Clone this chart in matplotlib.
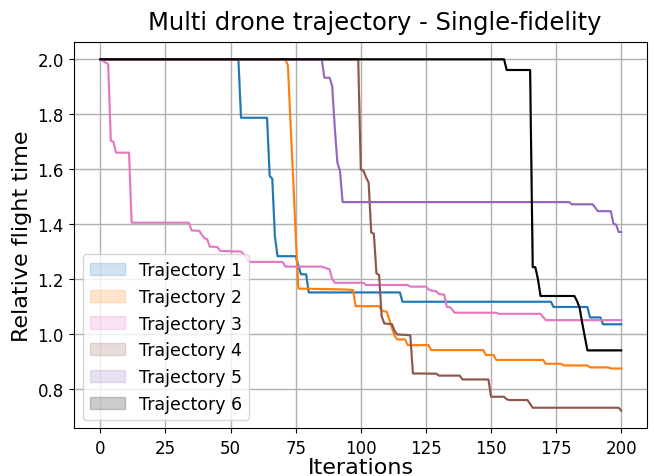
import matplotlib
matplotlib.use("Agg")
import matplotlib.pyplot as plt

# Trajectory breakpoints (iteration, relative flight time)
t1_x = [0, 53, 54, 64, 65, 66, 67, 68, 75, 77, 79, 80, 115, 116, 173, 174, 187, 188, 192, 193, 200]
t1_y = [2.0, 2.0, 1.787, 1.787, 1.575, 1.565, 1.356, 1.283, 1.283, 1.217, 1.217, 1.151, 1.151, 1.117, 1.117, 1.098, 1.098, 1.06, 1.06, 1.035, 1.035]

t2_x = [0, 71, 72, 73, 74, 75, 76, 93, 97, 98, 107, 108, 110, 111, 113, 114, 117, 118, 126, 127, 147, 148, 151, 152, 170, 171, 177, 178, 187, 188, 195, 196, 200]
t2_y = [2.0, 2.0, 1.978, 1.77, 1.57, 1.36, 1.165, 1.162, 1.16, 1.101, 1.101, 1.085, 1.08, 1.05, 0.992, 0.98, 0.98, 0.959, 0.959, 0.941, 0.941, 0.923, 0.923, 0.905, 0.905, 0.891, 0.891, 0.885, 0.885, 0.878, 0.878, 0.874, 0.874]

t3_x = [0, 2, 3, 4, 5, 6, 11, 12, 34, 35, 38, 39, 40, 41, 42, 45, 46, 54, 55, 57, 70, 71, 85, 88, 89, 90, 101, 102, 118, 119, 125, 126, 127, 129, 130, 132, 133, 134, 135, 136, 152, 153, 169, 171, 200]
t3_y = [2.0, 1.988, 1.982, 1.703, 1.70, 1.66, 1.66, 1.405, 1.405, 1.377, 1.375, 1.36, 1.348, 1.345, 1.318, 1.316, 1.302, 1.30, 1.29, 1.262, 1.262, 1.245, 1.245, 1.235, 1.20, 1.186, 1.186, 1.178, 1.178, 1.172, 1.172, 1.162, 1.158, 1.155, 1.145, 1.143, 1.098, 1.098, 1.09, 1.077, 1.077, 1.073, 1.073, 1.05, 1.05]

t4_x = [0, 99, 100, 101, 102, 103, 104, 105, 106, 107, 108, 109, 112, 113, 114, 119, 120, 129, 130, 138, 139, 149, 150, 155, 156, 157, 164, 165, 166, 199, 200]
t4_y = [2.0, 2.0, 1.599, 1.595, 1.57, 1.551, 1.369, 1.365, 1.22, 1.215, 1.065, 1.038, 1.035, 1.01, 0.998, 0.995, 0.856, 0.855, 0.848, 0.848, 0.834, 0.834, 0.771, 0.771, 0.762, 0.759, 0.759, 0.745, 0.731, 0.731, 0.72]

t5_x = [0, 85, 86, 88, 89, 90, 91, 92, 93, 180, 181, 189, 190, 191, 196, 197, 198, 199, 200]
t5_y = [2.0, 2.0, 1.933, 1.933, 1.903, 1.75, 1.624, 1.593, 1.48, 1.48, 1.472, 1.472, 1.46, 1.447, 1.447, 1.401, 1.398, 1.371, 1.371]

t6_x = [0, 155, 156, 165, 166, 167, 168, 169, 182, 183, 184, 185, 186, 187, 200]
t6_y = [2.0, 2.0, 1.961, 1.961, 1.243, 1.243, 1.2, 1.138, 1.138, 1.12, 1.095, 1.04, 0.99, 0.94, 0.94]

labels = ["Trajectory 1", "Trajectory 2", "Trajectory 3", "Trajectory 4", "Trajectory 5", "Trajectory 6"]
colors = ["tab:blue", "tab:orange", "tab:pink", "tab:brown", "tab:purple", "black"]
series = [(t1_x, t1_y), (t2_x, t2_y), (t3_x, t3_y), (t4_x, t4_y), (t5_x, t5_y), (t6_x, t6_y)]

fig = plt.figure(figsize=(6.54, 4.77), dpi=100)
ax = fig.add_axes([0.1136, 0.1, 0.8761, 0.8105])

for (xs, ys), c, lab in zip(series, colors, labels):
    ax.plot(xs, ys, color=c, linewidth=1.5)
    ax.fill_between(xs, ys, ys, color=c, alpha=0.2, label=lab)

ax.grid(True, color="#b0b0b0", linewidth=1.0)
ax.set_axisbelow(True)
ax.set_title("Multi drone trajectory - Single-fidelity", fontsize=17.5, pad=9, x=0.524)
ax.set_xlabel("Iterations", fontsize=16, labelpad=0)
ax.set_ylabel("Relative flight time", fontsize=16)
ax.tick_params(labelsize=12, pad=4)
ax.set_xticks([0, 25, 50, 75, 100, 125, 150, 175, 200])
ax.set_yticks([0.8, 1.0, 1.2, 1.4, 1.6, 1.8, 2.0])
ax.legend(loc="lower left", fontsize=12.5)

fig.savefig("out.png", dpi=100)
